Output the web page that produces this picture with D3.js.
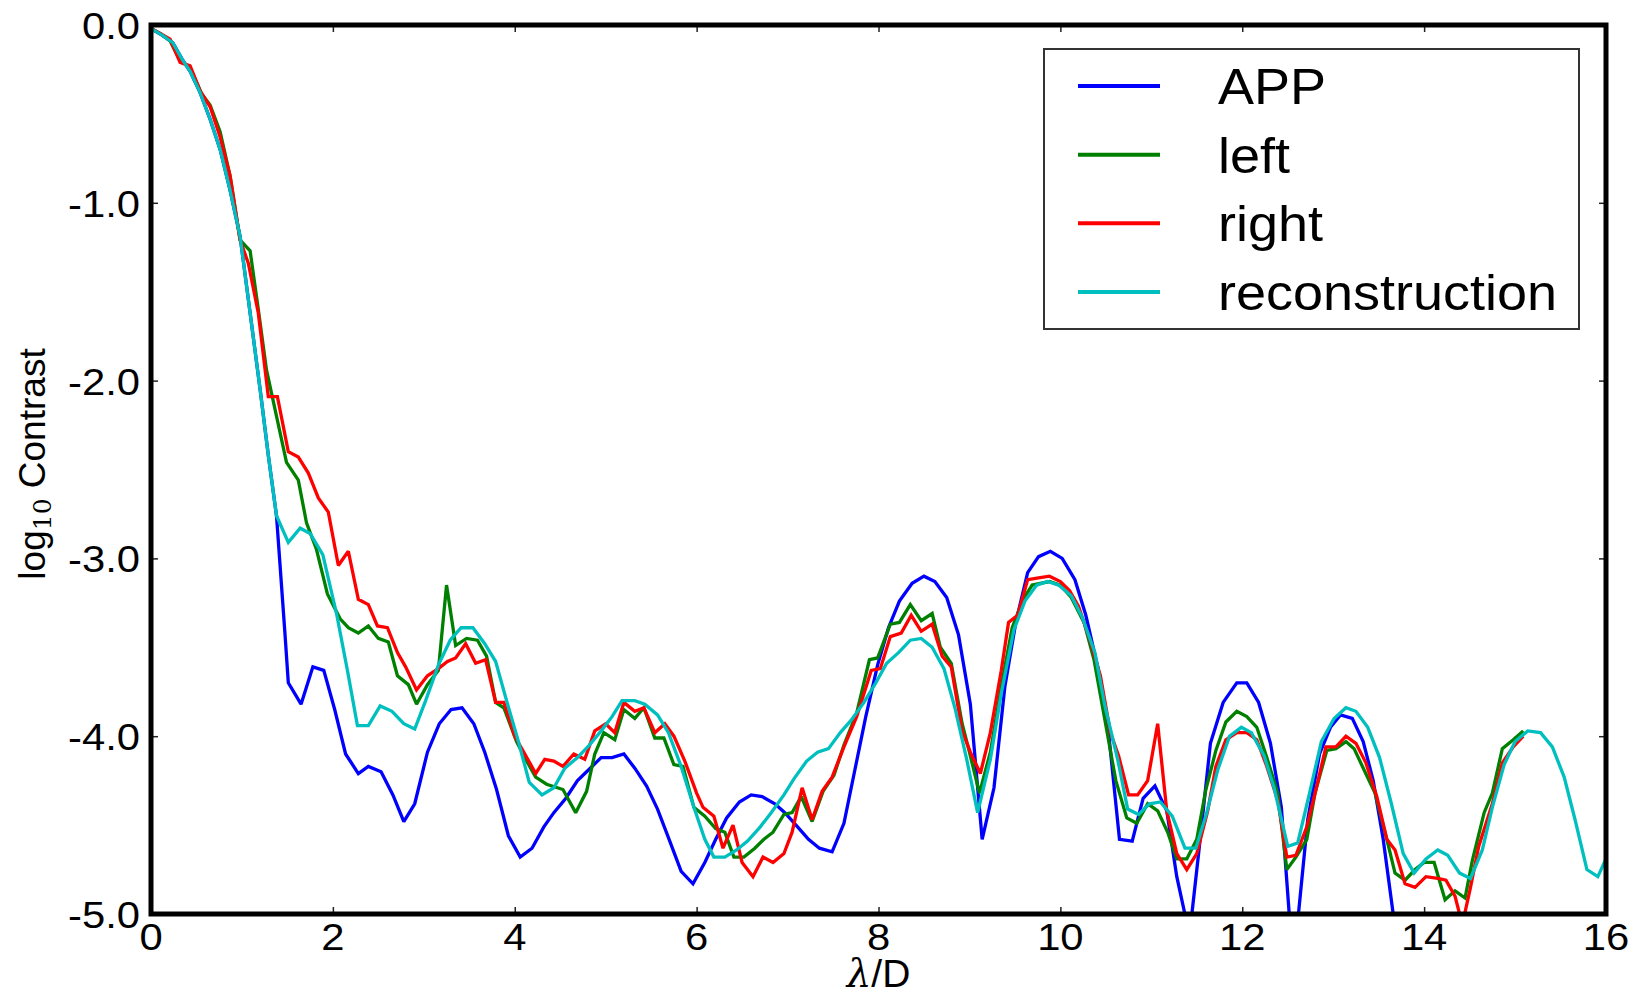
<!DOCTYPE html>
<html>
<head>
<meta charset="utf-8">
<script src="https://cdn.jsdelivr.net/npm/d3@7"></script>
<style>
  html, body { margin: 0; padding: 0; background: #fff; }
  svg { display: block; font-family: "Liberation Sans", Arial, Helvetica, sans-serif; }
</style>
</head>
<body>
<svg id="chart" width="1635" height="990"></svg>
<script>
// ---------- data ----------
const seriesNames = ["APP", "left", "right", "reconstruction"];
const xTicks = [0, 2, 4, 6, 8, 10, 12, 14, 16];
const xTickLabels = ["0", "2", "4", "6", "8", "10", "12", "14", "16"];
const yTicks = [0, -1, -2, -3, -4, -5];
const yTickLabels = ["0.0", "-1.0", "-2.0", "-3.0", "-4.0", "-5.0"];

const appData = [[0,-0.02],[0.13,-0.06],[0.24,-0.10],[0.34,-0.19],[0.43,-0.26],[0.54,-0.38],[0.65,-0.53],[0.76,-0.70],[0.87,-0.93],[0.98,-1.19],[1.09,-1.62],[1.2,-2.05],[1.29,-2.42],[1.38,-2.76],[1.47,-3.40],[1.51,-3.70],[1.65,-3.82],[1.78,-3.61],[1.90,-3.63],[2.02,-3.85],[2.14,-4.10],[2.28,-4.21],[2.39,-4.17],[2.53,-4.20],[2.66,-4.33],[2.78,-4.48],[2.90,-4.38],[3.04,-4.09],[3.17,-3.93],[3.30,-3.85],[3.42,-3.84],[3.55,-3.93],[3.67,-4.09],[3.80,-4.30],[3.93,-4.56],[4.06,-4.68],[4.19,-4.63],[4.32,-4.51],[4.43,-4.43],[4.56,-4.35],[4.69,-4.25],[4.83,-4.18],[4.95,-4.12],[5.07,-4.12],[5.20,-4.10],[5.32,-4.18],[5.45,-4.28],[5.57,-4.41],[5.69,-4.57],[5.83,-4.76],[5.96,-4.83],[6.09,-4.71],[6.21,-4.58],[6.33,-4.46],[6.47,-4.37],[6.60,-4.33],[6.72,-4.34],[6.86,-4.38],[6.97,-4.43],[7.11,-4.51],[7.23,-4.58],[7.35,-4.63],[7.49,-4.65],[7.62,-4.49],[7.74,-4.19],[7.86,-3.89],[7.99,-3.60],[8.11,-3.39],[8.23,-3.24],[8.37,-3.14],[8.50,-3.10],[8.62,-3.13],[8.75,-3.22],[8.88,-3.43],[9.01,-3.82],[9.14,-4.58],[9.27,-4.29],[9.39,-3.72],[9.51,-3.36],[9.64,-3.08],[9.76,-2.99],[9.89,-2.96],[10.02,-3.00],[10.16,-3.12],[10.28,-3.32],[10.41,-3.61],[10.53,-3.98],[10.65,-4.58],[10.79,-4.59],[10.91,-4.35],[11.04,-4.28],[11.17,-4.42],[11.28,-4.79],[11.42,-5.12],[11.52,-4.66],[11.65,-4.04],[11.79,-3.81],[11.94,-3.70],[12.05,-3.70],[12.18,-3.81],[12.31,-4.04],[12.43,-4.40],[12.56,-5.30],[12.72,-4.47],[12.85,-4.10],[12.97,-3.95],[13.08,-3.88],[13.21,-3.90],[13.33,-4.03],[13.44,-4.25],[13.55,-4.58],[13.66,-5.00],[13.75,-5.40]];

const leftData = [[0,-0.02],[0.11,-0.05],[0.21,-0.09],[0.32,-0.20],[0.43,-0.24],[0.56,-0.39],[0.65,-0.45],[0.76,-0.60],[0.87,-0.85],[0.98,-1.21],[1.09,-1.27],[1.18,-1.60],[1.27,-1.94],[1.38,-2.20],[1.49,-2.46],[1.62,-2.56],[1.71,-2.80],[1.82,-2.95],[1.94,-3.20],[2.08,-3.34],[2.17,-3.39],[2.28,-3.42],[2.39,-3.38],[2.50,-3.45],[2.61,-3.47],[2.71,-3.66],[2.83,-3.71],[2.92,-3.82],[3.04,-3.71],[3.16,-3.63],[3.25,-3.15],[3.35,-3.49],[3.47,-3.45],[3.59,-3.46],[3.69,-3.55],[3.79,-3.81],[3.88,-3.84],[4.02,-4.03],[4.12,-4.13],[4.23,-4.23],[4.35,-4.27],[4.53,-4.30],[4.67,-4.43],[4.79,-4.31],[4.88,-4.10],[4.98,-3.98],[5.10,-4.02],[5.20,-3.85],[5.32,-3.90],[5.42,-3.84],[5.54,-4.01],[5.64,-4.01],[5.75,-4.16],[5.85,-4.17],[5.97,-4.40],[6.09,-4.45],[6.21,-4.52],[6.31,-4.54],[6.41,-4.68],[6.52,-4.68],[6.64,-4.63],[6.74,-4.58],[6.84,-4.54],[6.96,-4.44],[7.05,-4.43],[7.15,-4.34],[7.27,-4.48],[7.39,-4.31],[7.51,-4.22],[7.62,-4.05],[7.76,-3.87],[7.90,-3.57],[7.99,-3.56],[8.13,-3.37],[8.23,-3.36],[8.35,-3.26],[8.47,-3.35],[8.59,-3.31],[8.68,-3.50],[8.80,-3.59],[8.92,-3.93],[9.00,-4.09],[9.11,-4.32],[9.23,-4.09],[9.35,-3.72],[9.47,-3.39],[9.59,-3.23],[9.69,-3.15],[9.78,-3.14],[9.88,-3.13],[10.00,-3.15],[10.12,-3.22],[10.26,-3.36],[10.37,-3.57],[10.49,-3.91],[10.61,-4.25],[10.73,-4.46],[10.84,-4.49],[10.96,-4.38],[11.07,-4.42],[11.18,-4.54],[11.28,-4.69],[11.39,-4.69],[11.50,-4.58],[11.60,-4.30],[11.71,-4.08],[11.82,-3.92],[11.94,-3.86],[12.05,-3.89],[12.16,-3.95],[12.27,-4.12],[12.39,-4.32],[12.49,-4.75],[12.59,-4.68],[12.71,-4.58],[12.80,-4.32],[12.93,-4.08],[13.03,-4.07],[13.14,-4.03],[13.23,-4.07],[13.34,-4.19],[13.46,-4.32],[13.59,-4.58],[13.68,-4.77],[13.79,-4.81],[13.90,-4.75],[14.00,-4.71],[14.11,-4.71],[14.23,-4.92],[14.34,-4.87],[14.45,-4.91],[14.53,-4.70],[14.66,-4.43],[14.75,-4.32],[14.86,-4.07],[14.98,-4.02],[15.09,-3.97]];

const rightData = [[0,-0.02],[0.11,-0.05],[0.21,-0.08],[0.32,-0.21],[0.43,-0.23],[0.54,-0.37],[0.65,-0.46],[0.76,-0.63],[0.87,-0.85],[0.98,-1.21],[1.07,-1.34],[1.18,-1.62],[1.29,-2.09],[1.39,-2.09],[1.51,-2.40],[1.62,-2.43],[1.73,-2.52],[1.84,-2.66],[1.95,-2.74],[2.06,-3.04],[2.17,-2.96],[2.28,-3.23],[2.39,-3.26],[2.49,-3.38],[2.60,-3.39],[2.71,-3.53],[2.80,-3.61],[2.92,-3.74],[3.04,-3.66],[3.16,-3.62],[3.26,-3.58],[3.35,-3.56],[3.46,-3.48],[3.57,-3.59],[3.68,-3.57],[3.79,-3.81],[3.88,-3.81],[4.00,-4.00],[4.10,-4.09],[4.23,-4.21],[4.33,-4.13],[4.43,-4.14],[4.53,-4.17],[4.65,-4.10],[4.77,-4.13],[4.88,-3.97],[5.00,-3.93],[5.10,-3.98],[5.20,-3.81],[5.32,-3.86],[5.42,-3.84],[5.54,-3.98],[5.65,-3.93],[5.75,-4.00],[5.87,-4.14],[6.00,-4.32],[6.07,-4.40],[6.19,-4.45],[6.29,-4.63],[6.40,-4.50],[6.50,-4.71],[6.62,-4.79],[6.73,-4.68],[6.84,-4.71],[6.96,-4.66],[7.05,-4.54],[7.16,-4.29],[7.27,-4.47],[7.38,-4.31],[7.49,-4.23],[7.62,-4.06],[7.76,-3.89],[7.92,-3.63],[8.02,-3.62],[8.13,-3.44],[8.25,-3.42],[8.36,-3.32],[8.47,-3.41],[8.59,-3.37],[8.70,-3.55],[8.80,-3.61],[8.92,-3.97],[9.01,-4.09],[9.12,-4.21],[9.23,-3.98],[9.35,-3.63],[9.43,-3.36],[9.53,-3.32],[9.64,-3.12],[9.76,-3.11],[9.88,-3.10],[10.00,-3.13],[10.10,-3.18],[10.20,-3.27],[10.32,-3.45],[10.44,-3.66],[10.55,-3.98],[10.64,-4.11],[10.75,-4.33],[10.85,-4.33],[10.96,-4.25],[11.07,-3.93],[11.17,-4.42],[11.28,-4.66],[11.39,-4.75],[11.50,-4.66],[11.62,-4.42],[11.71,-4.17],[11.82,-4.02],[11.94,-3.98],[12.05,-3.98],[12.16,-4.02],[12.27,-4.17],[12.39,-4.36],[12.49,-4.68],[12.59,-4.67],[12.71,-4.51],[12.82,-4.28],[12.92,-4.06],[13.03,-4.06],[13.14,-4.00],[13.25,-4.04],[13.36,-4.15],[13.48,-4.34],[13.59,-4.58],[13.68,-4.64],[13.79,-4.83],[13.90,-4.85],[14.02,-4.79],[14.15,-4.80],[14.24,-4.81],[14.34,-4.90],[14.42,-5.06],[14.51,-4.85],[14.60,-4.62],[14.75,-4.38],[14.86,-4.15],[14.98,-4.06],[15.09,-4.00]];

const reconData = [[0,-0.02],[0.13,-0.06],[0.24,-0.10],[0.34,-0.19],[0.43,-0.26],[0.54,-0.38],[0.65,-0.53],[0.76,-0.70],[0.87,-0.93],[0.98,-1.19],[1.09,-1.62],[1.2,-2.05],[1.29,-2.42],[1.38,-2.76],[1.51,-2.91],[1.64,-2.83],[1.75,-2.86],[1.89,-2.98],[2.04,-3.31],[2.16,-3.63],[2.27,-3.94],[2.39,-3.94],[2.52,-3.83],[2.65,-3.86],[2.78,-3.93],[2.90,-3.96],[3.02,-3.80],[3.16,-3.60],[3.29,-3.46],[3.41,-3.39],[3.54,-3.39],[3.67,-3.48],[3.79,-3.58],[3.91,-3.80],[4.04,-4.03],[4.16,-4.26],[4.30,-4.33],[4.43,-4.29],[4.55,-4.18],[4.69,-4.12],[4.82,-4.05],[4.95,-3.97],[5.07,-3.89],[5.18,-3.80],[5.32,-3.80],[5.43,-3.82],[5.57,-3.88],[5.69,-3.98],[5.83,-4.17],[5.97,-4.40],[6.09,-4.58],[6.19,-4.68],[6.31,-4.68],[6.44,-4.64],[6.56,-4.59],[6.70,-4.51],[6.82,-4.43],[6.96,-4.33],[7.07,-4.24],[7.21,-4.14],[7.33,-4.09],[7.45,-4.07],[7.58,-3.98],[7.70,-3.91],[7.84,-3.81],[7.97,-3.70],[8.09,-3.59],[8.22,-3.53],[8.35,-3.46],[8.47,-3.45],[8.59,-3.50],[8.72,-3.62],[8.84,-3.84],[8.97,-4.13],[9.09,-4.43],[9.23,-4.13],[9.35,-3.76],[9.49,-3.40],[9.61,-3.24],[9.74,-3.15],[9.86,-3.13],[9.98,-3.15],[10.12,-3.21],[10.24,-3.33],[10.38,-3.53],[10.49,-3.83],[10.63,-4.13],[10.74,-4.41],[10.86,-4.44],[10.98,-4.38],[11.10,-4.37],[11.23,-4.45],[11.37,-4.63],[11.49,-4.63],[11.61,-4.43],[11.73,-4.19],[11.86,-4.00],[11.99,-3.95],[12.10,-3.98],[12.24,-4.11],[12.35,-4.29],[12.50,-4.62],[12.61,-4.60],[12.74,-4.32],[12.87,-4.03],[13.01,-3.90],[13.14,-3.84],[13.25,-3.86],[13.38,-3.95],[13.51,-4.12],[13.64,-4.38],[13.77,-4.66],[13.89,-4.77],[14.02,-4.69],[14.15,-4.64],[14.26,-4.67],[14.39,-4.77],[14.51,-4.80],[14.64,-4.64],[14.75,-4.40],[14.88,-4.16],[15.00,-4.03],[15.14,-3.97],[15.28,-3.98],[15.41,-4.06],[15.54,-4.23],[15.66,-4.47],[15.79,-4.75],[15.91,-4.79],[16.00,-4.69]];

const seriesData = [appData, leftData, rightData, reconData];
const seriesColors = ["#0000ff", "#008000", "#ff0000", "#00bfbf"];

// ---------- layout ----------
const L = 151, R = 1606, T = 25, B = 914;
const svg = d3.select("#chart");
const x = d3.scaleLinear().domain([0, 16]).range([L, R]);
const y = d3.scaleLinear().domain([-5, 0]).range([B, T]);

svg.append("defs").append("clipPath").attr("id", "plotclip")
  .append("rect").attr("x", L).attr("y", T).attr("width", R - L).attr("height", B - T);

// lines
const line = d3.line().x(d => x(d[0])).y(d => y(d[1]));
const plot = svg.append("g").attr("clip-path", "url(#plotclip)");
seriesData.forEach((data, i) => {
  plot.append("path").datum(data)
    .attr("d", line)
    .attr("fill", "none")
    .attr("stroke", seriesColors[i])
    .attr("stroke-width", 3.3)
    .attr("stroke-linejoin", "miter")
    .attr("stroke-miterlimit", 2);
});

// ticks (inward on all four sides) using d3 axes
const tickLen = 7;
const axB = d3.axisBottom(x).tickValues(xTicks).tickSize(-tickLen).tickFormat("");
const axT = d3.axisTop(x).tickValues(xTicks).tickSize(-tickLen).tickFormat("");
const axL = d3.axisLeft(y).tickValues(yTicks).tickSize(-tickLen).tickFormat("");
const axR = d3.axisRight(y).tickValues(yTicks).tickSize(-tickLen).tickFormat("");
[[axB, `translate(0,${B})`], [axT, `translate(0,${T})`], [axL, `translate(${L},0)`], [axR, `translate(${R},0)`]]
  .forEach(([ax, tr]) => {
    const g = svg.append("g").attr("transform", tr).call(ax);
    g.select(".domain").remove();
    g.selectAll(".tick line").attr("stroke", "#222").attr("stroke-width", 1.5);
  });

// frame
svg.append("rect").attr("x", L).attr("y", T).attr("width", R - L).attr("height", B - T)
  .attr("fill", "none").attr("stroke", "#000").attr("stroke-width", 5);

// tick labels
const tickFont = 37, stretch = 1.13;
xTicks.forEach((v, i) => {
  svg.append("g").attr("transform", `translate(${x(v)},950) scale(${stretch},1)`)
    .append("text").attr("text-anchor", "middle").attr("font-size", tickFont)
    .attr("fill", "#000").text(xTickLabels[i]);
});
yTicks.forEach((v, i) => {
  svg.append("g").attr("transform", `translate(140,${y(v) + 14}) scale(${stretch},1)`)
    .append("text").attr("text-anchor", "end").attr("font-size", tickFont)
    .attr("fill", "#000").text(yTickLabels[i]);
});

// axis labels
const xl = svg.append("text").attr("x", x(8)).attr("y", 987).attr("text-anchor", "middle")
  .attr("font-size", 39).attr("fill", "#000");
xl.append("tspan").attr("font-style", "italic").attr("font-family", "DejaVu Serif, serif").text("λ");
xl.append("tspan").text("/D");

const yl = svg.append("text").attr("transform", "translate(45,464) rotate(-90)")
  .attr("text-anchor", "middle").attr("font-size", 37).attr("fill", "#000");
yl.append("tspan").text("log");
yl.append("tspan").attr("font-size", 25).attr("dy", 6).attr("font-family", "DejaVu Serif, serif").text("10");
yl.append("tspan").attr("dy", -6).text(" Contrast");

// legend
const lg = svg.append("g");
lg.append("rect").attr("x", 1044).attr("y", 49).attr("width", 1579 - 1044).attr("height", 329 - 49)
  .attr("fill", "#fff").attr("stroke", "#333").attr("stroke-width", 2);
const legY = d3.scaleLinear().domain([0, 3]).range([86, 292]);
seriesNames.forEach((name, i) => {
  lg.append("line").attr("x1", 1078).attr("x2", 1160).attr("y1", legY(i)).attr("y2", legY(i))
    .attr("stroke", seriesColors[i]).attr("stroke-width", 4);
  lg.append("g").attr("transform", `translate(1218,${legY(i) + 18}) scale(1.08,1)`)
    .append("text").attr("font-size", 50).attr("fill", "#000").text(name);
});
</script>
</body>
</html>
